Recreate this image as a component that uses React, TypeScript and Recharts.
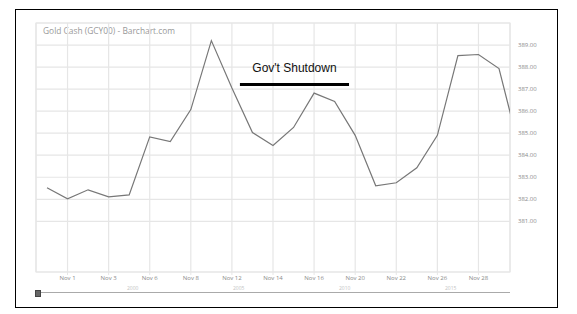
import { LineChart, Line, XAxis, YAxis, CartesianGrid, ReferenceLine, ReferenceArea } from 'recharts';

// Gold cash closes, one per trading day (index = position on the x axis)
const dates = [
  'Oct 31', 'Nov 1', 'Nov 2', 'Nov 3', 'Nov 5', 'Nov 6', 'Nov 7', 'Nov 8', 'Nov 9', 'Nov 12', 'Nov 13', 'Nov 14',
  'Nov 15', 'Nov 16', 'Nov 19', 'Nov 20', 'Nov 21', 'Nov 22', 'Nov 23', 'Nov 26', 'Nov 27', 'Nov 28', 'Nov 29', 'Nov 30',
];
const closes = [
  382.52, 382.02, 382.43, 382.11, 382.2, 384.83, 384.62, 386.07, 389.2, 387.05, 385.03, 384.44,
  385.26, 386.82, 386.44, 384.9, 382.61, 382.75, 383.43, 384.9, 388.52, 388.57, 387.93, 384.25,
];
const xTicks = [1, 3, 5, 7, 9, 11, 13, 15, 17, 19, 21];
const yTicks = [381, 382, 383, 384, 385, 386, 387, 388, 389];
const navYears = ['2000', '2005', '2010', '2015'];

// shutdown marker, in data units
const shutdownStart = 9.39;
const shutdownEnd = 14.7;
const shutdownLevel = 387.21;

const X_MIN = -0.535;
const X_MAX = 22.535;
const Y_MIN = 378.7;
const Y_MAX = 390;

const data = closes.map((close, i) => ({ i, close }));

const small = { fontFamily: '"Open Sans", sans-serif', fontSize: 6, fill: '#8a8a8a' };

export default function App() {
  return (
    <div style={{ position: 'absolute', left: 0, top: 0, width: 577, height: 314, background: '#fff', overflow: 'hidden' }}>
      <div style={{ position: 'absolute', left: 15, top: 9, width: 541, height: 297, border: '1px solid #000' }} />
      <div
        style={{
          position: 'absolute', left: 43, top: 25, fontFamily: '"Open Sans", sans-serif', fontSize: 8.4,
          color: '#999', whiteSpace: 'nowrap',
        }}
      >
        Gold Cash (GCY00) - Barchart.com
      </div>
      <div style={{ position: 'absolute', left: 0, top: 0 }}>
        <LineChart width={577} height={314} data={data} margin={{ top: 23, right: 37, bottom: 28, left: 36 }}>
          <CartesianGrid stroke="#e6e6e6" strokeWidth={1.2} />
          <ReferenceArea x1={X_MIN} x2={X_MAX} y1={Y_MIN} y2={Y_MAX} fill="none" stroke="#e6e6e6" strokeWidth={1.2} />
          <XAxis
            dataKey="i"
            type="number"
            domain={[X_MIN, X_MAX]}
            allowDataOverflow
            ticks={xTicks}
            interval={0}
            tickFormatter={(v: number) => dates[v]}
            axisLine={false}
            tickLine={{ stroke: '#e6e6e6' }}
            tickSize={3}
            tickMargin={1}
            height={14}
            tick={small}
          />
          <YAxis
            orientation="right"
            type="number"
            domain={[Y_MIN, Y_MAX]}
            allowDataOverflow
            ticks={yTicks}
            interval={0}
            tickFormatter={(v: number) => v.toFixed(2)}
            axisLine={false}
            tickLine={false}
            tickMargin={2}
            width={30}
            tick={{ ...small, textAnchor: 'start' }}
          />
          <ReferenceLine
            segment={[{ x: shutdownStart, y: shutdownLevel }, { x: shutdownEnd, y: shutdownLevel }]}
            stroke="#000"
            strokeWidth={3}
            label={{
              value: "Gov't Shutdown",
              position: 'top',
              offset: 12,
              fill: '#111',
              fontSize: 12,
              fontFamily: '"Liberation Sans", Arial, sans-serif',
            }}
          />
          <Line type="linear" dataKey="close" stroke="#777" strokeWidth={1.2} dot={false} isAnimationActive={false} />
        </LineChart>
      </div>
      {/* navigator strip below the chart */}
      <div style={{ position: 'absolute', left: 36, top: 292, width: 474, height: 1, background: '#aaa' }} />
      <div style={{ position: 'absolute', left: 35, top: 290, width: 4, height: 5, background: '#666', border: '0.5px solid #444' }} />
      {navYears.map((y, k) => (
        <div
          key={y}
          style={{
            position: 'absolute', left: 127 + k * 106, top: 285, fontFamily: '"Open Sans", sans-serif',
            fontSize: 5, color: '#c4c4c4',
          }}
        >
          {y}
        </div>
      ))}
    </div>
  );
}
